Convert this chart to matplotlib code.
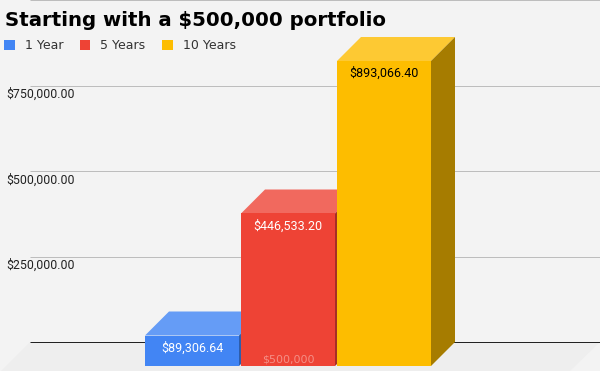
#!/usr/bin/env python3
"""Fake-3D column chart: portfolio gain after 1, 5 and 10 years."""

import matplotlib
matplotlib.use("Agg")
import matplotlib.pyplot as plt
from matplotlib.patches import Patch, Polygon

categories = ["1 Year", "5 Years", "10 Years"]
values = [89306.64, 446533.20, 893066.40]
value_labels = ["$89,306.64", "$446,533.20", "$893,066.40"]
grid_values = [250000, 500000, 750000, 1000000]
tick_labels = ["$250,000.00", "$500,000.00", "$750,000.00"]

front_colors = ["#4285f4", "#ee4335", "#fdbd00"]
top_colors = ["#659cf6", "#f1695e", "#fdc933"]
side_colors = ["#2e5dab", "#a62f25", "#a67c00"]
text_colors = ["white", "white", "black"]

BG = "#f3f3f3"
FLOOR = "#eeeeee"
USD_PER_PX = 893066.4 / 305   # vertical scale of the chart
BAR_STEP_PX = 96
W, H = 600, 371

fig = plt.figure(figsize=(W / 100, H / 100), dpi=100, facecolor=BG)
ax = fig.add_axes([0, 0, 1, 1], facecolor=BG)
ax.set_xlim(-192 / BAR_STEP_PX, (W - 192) / BAR_STEP_PX)
ax.set_ylim(-(H - 366) * USD_PER_PX, 366 * USD_PER_PX)
ax.axis("off")

# the 3d extrusion, same 24 px both ways
dx = 24 / BAR_STEP_PX
dy = 24 * USD_PER_PX
half = 47 / BAR_STEP_PX
px = 1 / BAR_STEP_PX

# floor
ax.add_patch(Polygon([(-162 * px, dy), (408 * px, dy), (378 * px, -5 * USD_PER_PX),
                      (-191 * px, -5 * USD_PER_PX)],
                     closed=True, fc=FLOOR, ec="none", zorder=1))

# gridlines sit on the back wall
ax.hlines([g + dy for g in grid_values], -162 * px, 408 * px,
          color="#bdbdbd", lw=0.72, zorder=2)
ax.hlines(dy, -162 * px, 408 * px, color="#222222", lw=0.72, zorder=2)
for g, lab in zip(grid_values, tick_labels):
    ax.annotate(lab, (-186 * px, g + dy), xytext=(0, -8.5 * 0.72), textcoords="offset points",
                ha="left", va="center", fontsize=8.9, family="Roboto", color="#222222", zorder=3)

# columns, left to right so each one hides the previous one's side
handles = []
for i, v in enumerate(values):
    z = 4 + i
    ax.bar(i, v, width=2 * half, color=front_colors[i], zorder=z + 0.2)
    ax.add_patch(Polygon([(i - half, v), (i + half, v), (i + half + dx, v + dy), (i - half + dx, v + dy)],
                         closed=True, fc=top_colors[i], ec="none", zorder=z))
    ax.add_patch(Polygon([(i + half, 0), (i + half + dx, dy), (i + half + dx, v + dy), (i + half, v)],
                         closed=True, fc=side_colors[i], ec="none", zorder=z))
    ax.annotate(value_labels[i], (i, v), xytext=(0, -12.5 * 0.72), textcoords="offset points",
                ha="center", va="center", fontsize=9, family="Roboto",
                color=text_colors[i], zorder=z + 0.5)
    handles.append(Patch(fc=front_colors[i], ec="none", label=categories[i]))

# faint note on the red column
ax.annotate("$500,000", (1, 0), xytext=(0, 6.5 * 0.72), textcoords="offset points",
            ha="center", va="center", fontsize=8, color="white", alpha=0.4, zorder=8)

fig.text(5 / W, 1 - 26 / H, "Starting with a $500,000 portfolio", fontsize=14.2,
         fontweight="bold", color="black", ha="left", va="baseline")

leg = fig.legend(handles=handles, loc="upper left", bbox_to_anchor=(4 / W, 1 - 39 / H),
                 ncol=3, frameon=False, fontsize=9, labelcolor="#333333", borderaxespad=0,
                 borderpad=0, handlelength=0.85, handleheight=0.85, handletextpad=0.8,
                 columnspacing=1.33)

fig.savefig("out.png", dpi=100, facecolor=BG)
print("Saved: out.png")
